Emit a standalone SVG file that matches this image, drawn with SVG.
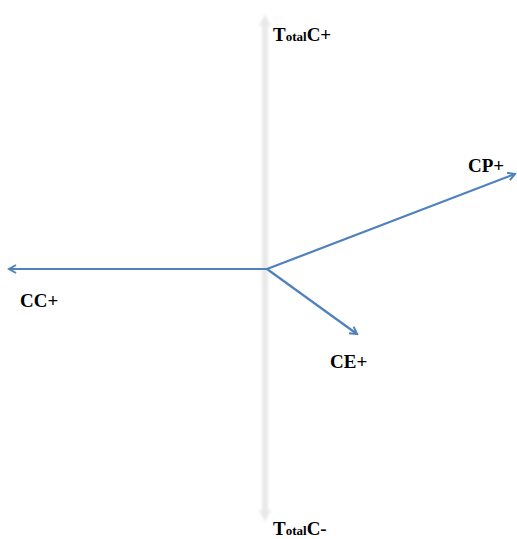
<svg xmlns="http://www.w3.org/2000/svg" width="517" height="539" viewBox="0 0 517 539">
<style>
.lbl{font-family:"Liberation Serif",serif;font-weight:bold;font-size:19px;fill:#000}
.sub{font-size:13px}
.vec{stroke:#4f81bd;stroke-width:2.2;fill:none}
.ax{stroke:#e8e8e8;stroke-width:6;fill:none}
</style>
<defs>
<marker id="ah" markerWidth="10" markerHeight="10" refX="8" refY="5" orient="auto" markerUnits="userSpaceOnUse">
<path d="M1,1 L8,5 L1,9" fill="none" stroke="#4f81bd" stroke-width="2"/>
</marker>
<filter id="blur" x="-2" y="-0.1" width="5" height="1.2"><feGaussianBlur stdDeviation="1.8"/></filter>
</defs>
<g id="axis" filter="url(#blur)">
<line class="ax" x1="265" y1="20" x2="265" y2="516"/>
<path d="M259,26 L265,14 L271,26 Z" fill="#e8e8e8"/>
<path d="M259,510 L265,522 L271,510 Z" fill="#e8e8e8"/>
</g>
<g id="connectors">
<line class="vec" x1="267" y1="269" x2="9" y2="269" marker-end="url(#ah)"/>
<line class="vec" x1="267" y1="269" x2="515" y2="174" marker-end="url(#ah)"/>
<line class="vec" x1="267" y1="269" x2="357" y2="334" marker-end="url(#ah)"/>
</g>
<g id="totalCplus"><text class="lbl" x="273" y="41">T<tspan class="sub">otal</tspan>C+</text></g>
<g id="totalCminus"><text class="lbl" x="273" y="535">T<tspan class="sub">otal</tspan>C-</text></g>
<g id="CP"><text class="lbl" x="468" y="172">CP+</text></g>
<g id="CC"><text class="lbl" x="20" y="307">CC+</text></g>
<g id="CE"><text class="lbl" x="330" y="368">CE+</text></g>
</svg>
